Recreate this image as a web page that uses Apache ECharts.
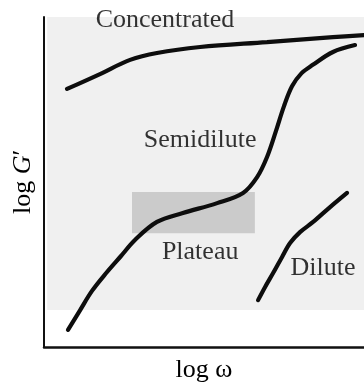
<!DOCTYPE html>
<html>
<head>
<meta charset="utf-8">
<script src="https://cdn.jsdelivr.net/npm/echarts@6/dist/echarts.min.js"></script>
<style>
  html, body { margin: 0; padding: 0; background: #fff; }
  #chart { width: 364px; height: 390px; }
</style>
</head>
<body>
<div id="chart"></div>
<script>
// curves, in arbitrary log units (0..10 on each axis)
var concentrated = [[0.72, 7.82], [1.75, 8.27], [2.69, 8.70], [3.53, 8.91], [4.88, 9.09], [6.97, 9.24], [9.03, 9.39], [10, 9.45]];
var semidilute = [[0.75, 0.52], [1.13, 1.12], [1.50, 1.70], [1.95, 2.25], [2.40, 2.75], [2.85, 3.25], [3.53, 3.79], [4.34, 4.06],
    [5.41, 4.36], [6.22, 4.67], [6.66, 5.15], [6.97, 5.76], [7.25, 6.55], [7.50, 7.30], [7.75, 7.90], [8.05, 8.30],
    [8.40, 8.55], [9.03, 8.94], [9.72, 9.15]];
var dilute = [[6.69, 1.42], [6.91, 1.82], [7.16, 2.24], [7.44, 2.73], [7.69, 3.15], [8.0, 3.48], [8.41, 3.79], [8.94, 4.24], [9.47, 4.67]];
// plateau box: [xmin, ymin], [xmax, ymax]
var plateauBox = [[2.75, 3.45], [6.59, 4.70]];
var regionLabels = [
    { name: 'Concentrated', value: [3.78, 9.91] },
    { name: 'Semidilute', value: [4.88, 6.27] },
    { name: 'Plateau', value: [4.88, 2.88] },
    { name: 'Dilute', value: [8.72, 2.39] }
];

var myChart = echarts.init(document.getElementById('chart'));
var serif = '"Liberation Serif", "DejaVu Serif", serif';

function curve(name, data) {
    return {
        name: name,
        type: 'line',
        data: data,
        smooth: 0.35,
        symbol: 'none',
        silent: true,
        lineStyle: { color: '#0d0d0d', width: 4.2, cap: 'round' },
        z: 5
    };
}

var option = {
    backgroundColor: '#fff',
    animation: false,
    grid: { left: 44, right: 0, top: 17, bottom: 43 },
    xAxis: {
        type: 'value', min: 0, max: 10,
        name: 'log ω', nameLocation: 'middle', nameGap: 10,
        nameTextStyle: { fontFamily: serif, fontSize: 26, color: '#000' },
        axisLine: { show: true, lineStyle: { color: '#111', width: 2.5 } },
        axisTick: { show: false }, axisLabel: { show: false }, splitLine: { show: false }
    },
    yAxis: {
        type: 'value', min: 0, max: 10,
        name: '{a|log }{b|G}{a|′}', nameLocation: 'middle', nameGap: 8, nameRotate: 90,
        nameTextStyle: {
            rich: {
                a: { fontFamily: serif, fontSize: 26, color: '#000' },
                b: { fontFamily: serif, fontSize: 26, fontStyle: 'italic', color: '#000' }
            }
        },
        axisLine: { show: true, lineStyle: { color: '#111', width: 2 } },
        axisTick: { show: false }, axisLabel: { show: false }, splitLine: { show: false }
    },
    series: [
        {
            name: 'bg',
            type: 'line',
            data: [],
            silent: true,
            markArea: {
                silent: true,
                itemStyle: { color: '#f0f0f0' },
                data: [[{ coord: [0.1, 1.12] }, { coord: [10, 10] }]]
            },
            z: 1
        },
        {
            name: 'plateau',
            type: 'line',
            data: [],
            silent: true,
            markArea: {
                silent: true,
                itemStyle: { color: '#cbcbcb' },
                data: [[{ coord: plateauBox[0] }, { coord: plateauBox[1] }]]
            },
            z: 2
        },
        curve('Concentrated', concentrated),
        curve('Semidilute', semidilute),
        curve('Dilute', dilute),
        {
            name: 'labels',
            type: 'scatter',
            data: regionLabels,
            symbolSize: 0,
            silent: true,
            label: {
                show: true,
                position: 'inside',
                formatter: '{b}',
                fontFamily: serif,
                fontSize: 26,
                color: '#000'
            },
            z: 6
        }
    ]
};

if (option && typeof option === 'object') {
    myChart.setOption(option, true);
}
</script>
</body>
</html>
